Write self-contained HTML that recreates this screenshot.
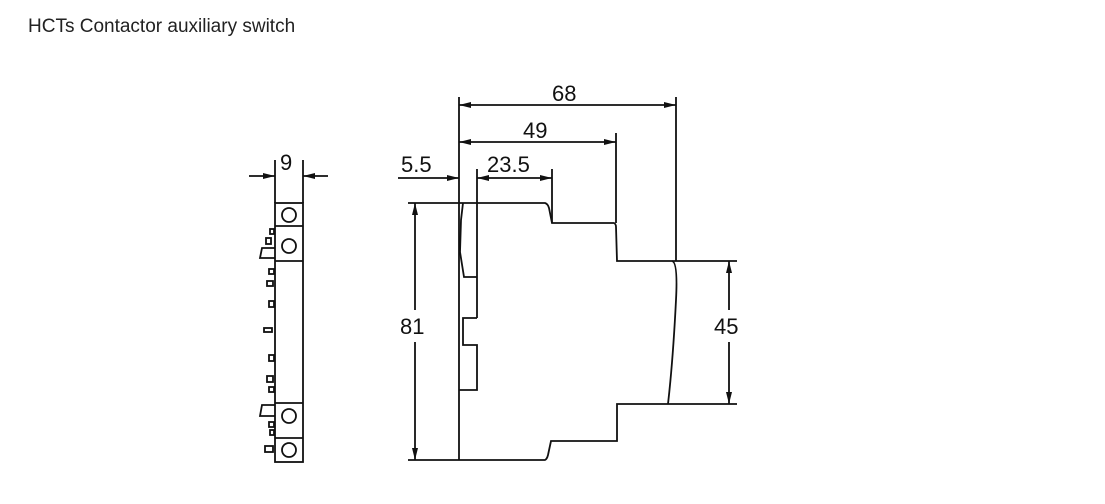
<!DOCTYPE html>
<html><head><meta charset="utf-8"><style>
body{margin:0;background:#fff;width:1105px;height:504px;overflow:hidden}
svg{position:absolute;left:0;top:0}
text{font-family:"Liberation Sans",sans-serif}
</style></head><body>
<svg width="1105" height="504" viewBox="0 0 1105 504">
<defs>
<marker id="a" viewBox="0 0 12 6" refX="12" refY="3" markerWidth="13" markerHeight="6" orient="auto-start-reverse" markerUnits="userSpaceOnUse"><path d="M0,0 L12,3 L0,6z" fill="#111"/></marker>
</defs>
<text x="28" y="32" font-size="19" fill="#222">HCTs Contactor auxiliary switch</text>
<g stroke="#111" stroke-width="1.8" fill="none">
<line x1="275" y1="160" x2="275" y2="203"/><line x1="303" y1="160" x2="303" y2="203"/>
<line x1="249" y1="176" x2="275" y2="176" marker-end="url(#a)"/>
<line x1="328" y1="176" x2="303" y2="176" marker-end="url(#a)"/>
<rect x="275" y="203" width="28" height="259"/>
<line x1="275" y1="226" x2="303" y2="226"/><line x1="275" y1="261" x2="303" y2="261"/>
<line x1="275" y1="403" x2="303" y2="403"/><line x1="275" y1="438" x2="303" y2="438"/>
<circle cx="289" cy="215" r="7"/><circle cx="289" cy="246" r="7"/>
<circle cx="289" cy="416" r="7"/><circle cx="289" cy="450" r="7"/>
<path d="M275,248 L262,248 L260,258 L275,258"/>
<path d="M275,405 L262,405 L260,416 L275,416"/>
<rect x="266" y="238" width="5" height="6"/><rect x="270" y="229" width="4" height="5"/>
<rect x="269" y="269" width="5" height="5"/><rect x="267" y="281" width="6" height="5"/>
<rect x="269" y="301" width="5" height="6"/><rect x="264" y="328" width="8" height="4"/>
<rect x="269" y="355" width="5" height="6"/><rect x="267" y="376" width="6" height="6"/>
<rect x="269" y="387" width="5" height="5"/><rect x="269" y="422" width="5" height="5"/>
<rect x="270" y="430" width="4" height="5"/><rect x="265" y="446" width="8" height="6"/>
<line x1="459" y1="97" x2="459" y2="460"/>
<line x1="676" y1="97" x2="676" y2="261"/>
<line x1="459" y1="105" x2="676" y2="105" marker-start="url(#a)" marker-end="url(#a)"/>
<line x1="616" y1="133" x2="616" y2="223"/>
<line x1="459" y1="142" x2="616" y2="142" marker-start="url(#a)" marker-end="url(#a)"/>
<line x1="477" y1="169" x2="477" y2="318"/>
<line x1="552" y1="169" x2="552" y2="223"/>
<line x1="398" y1="178" x2="459" y2="178" marker-end="url(#a)"/>
<line x1="477" y1="178" x2="552" y2="178" marker-start="url(#a)" marker-end="url(#a)"/>
<path d="M408,203 L545,203 Q548,204 549,208 L552,223 L614,223 Q616,224 616,227 L617,261 L737,261"/>
<path d="M672,261 Q678,262 676,300 Q673,360 668,404"/>
<path d="M408,460 L545,460 Q547,459 548,455 L551,441 L617,441 L617,404 L737,404"/>
<path d="M463,203 L461,220 L460,252 L464,277 L477,277"/>
<path d="M477,318 L463,318 L463,345 L477,345 L477,390 L459,390"/>
<line x1="415" y1="203" x2="415" y2="310" marker-start="url(#a)"/>
<line x1="415" y1="342" x2="415" y2="460" marker-end="url(#a)"/>
<line x1="729" y1="261" x2="729" y2="310" marker-start="url(#a)"/>
<line x1="729" y1="342" x2="729" y2="404" marker-end="url(#a)"/>
</g>
<g font-size="22" fill="#111">
<text x="280" y="170">9</text>
<text x="552" y="101">68</text>
<text x="523" y="138">49</text>
<text x="401" y="172">5.5</text>
<text x="487" y="172">23.5</text>
<text x="400" y="334">81</text>
<text x="714" y="334">45</text>
</g>
</svg>
</body></html>
